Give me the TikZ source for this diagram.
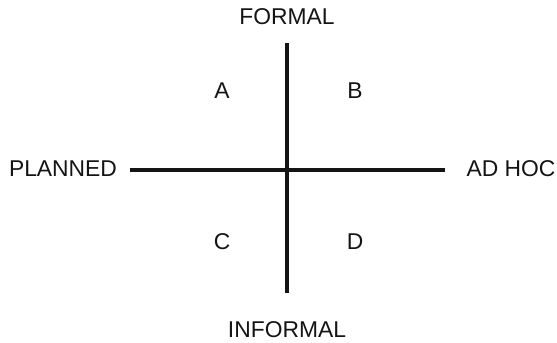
\documentclass[tikz,border=0pt]{standalone}
\usepackage{fontspec}
\setmainfont{Liberation Sans}
\usepackage{tikz}
\usetikzlibrary{calc, positioning}
\usepackage{xcolor}
\definecolor{inkgray}{RGB}{20, 20, 20}

\begin{document}
\begin{tikzpicture}[x=0.03cm, y=-0.03cm, font=\fontsize{19.5}{21}\selectfont,
    axis/.style={line width=2.6pt, inkgray},
    label/.style={inner sep=0pt, text=inkgray}]
  % Frame of the page (pixel units, y downward)
  \useasboundingbox (0,0) rectangle (557,343);

  % Axis ends and crossing
  \coordinate (top) at (287,43);
  \coordinate (bottom) at (287,293);
  \coordinate (left) at (130,170);
  \coordinate (right) at (445,170);

  % Axes
  \draw[axis] (top) -- (bottom);
  \draw[axis] (left) -- (right);

  % Axis labels
  \node[label] (formal) at (287,17) {FORMAL};
  \node[label] (informal) at (287,330) {INFORMAL};
  \node[label] (planned) at (63,169) {PLANNED};
  \node[label] (adhoc) at (511,169) {AD HOC};

  % Quadrants
  \node[label] (qa) at (222,91) {A};
  \node[label] (qb) at (355,91) {B};
  \node[label] (qc) at (222,242) {C};
  \node[label] (qd) at (355,242) {D};
\end{tikzpicture}
\end{document}
